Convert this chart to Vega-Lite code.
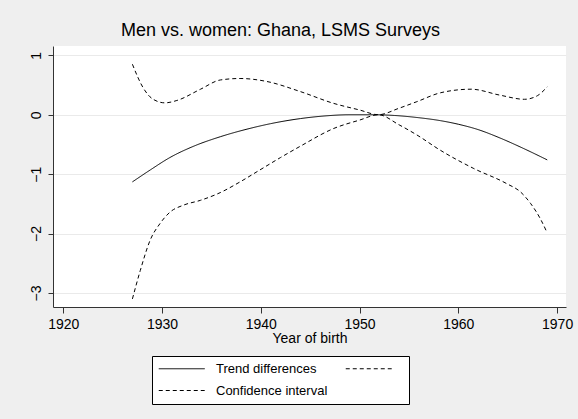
{
  "$schema": "https://vega.github.io/schema/vega-lite/v6.json",
  "autosize": {"type": "none"},
  "width": 513,
  "height": 261,
  "padding": {"left": 53, "top": 46, "right": 12, "bottom": 112},
  "background": "#efefef",
  "title": {
    "text": "Men vs. women: Ghana, LSMS Surveys",
    "font": "Liberation Sans",
    "fontSize": 18,
    "fontWeight": "normal",
    "color": "#000000",
    "anchor": "middle",
    "frame": "group",
    "dx": -29,
    "offset": 6
  },
  "config": {
    "view": {"fill": "#ffffff", "stroke": null},
    "font": "Liberation Sans",
    "axis": {
      "labelFont": "Liberation Sans",
      "titleFont": "Liberation Sans",
      "labelFontSize": 14,
      "titleFontSize": 14,
      "titleFontWeight": "normal",
      "labelColor": "#000000",
      "titleColor": "#000000",
      "domainColor": "#333333",
      "tickColor": "#333333",
      "gridColor": "#eaeaea",
      "gridWidth": 1
    }
  },
  "data": {
    "values": [
      {"year": 1927, "value": -1.13, "series": "Trend differences"},
      {"year": 1928.8, "value": -0.93, "series": "Trend differences"},
      {"year": 1930.8, "value": -0.72, "series": "Trend differences"},
      {"year": 1933.2, "value": -0.53, "series": "Trend differences"},
      {"year": 1935.9, "value": -0.37, "series": "Trend differences"},
      {"year": 1938.9, "value": -0.23, "series": "Trend differences"},
      {"year": 1941, "value": -0.15, "series": "Trend differences"},
      {"year": 1944, "value": -0.065, "series": "Trend differences"},
      {"year": 1946.5, "value": -0.02, "series": "Trend differences"},
      {"year": 1949, "value": 0.0, "series": "Trend differences"},
      {"year": 1951.5, "value": 0.0, "series": "Trend differences"},
      {"year": 1953.5, "value": -0.012, "series": "Trend differences"},
      {"year": 1956, "value": -0.05, "series": "Trend differences"},
      {"year": 1958.2, "value": -0.1, "series": "Trend differences"},
      {"year": 1960, "value": -0.16, "series": "Trend differences"},
      {"year": 1962, "value": -0.25, "series": "Trend differences"},
      {"year": 1964.2, "value": -0.39, "series": "Trend differences"},
      {"year": 1966.5, "value": -0.56, "series": "Trend differences"},
      {"year": 1969, "value": -0.76, "series": "Trend differences"},

      {"year": 1927, "value": 0.85, "series": "Upper"},
      {"year": 1928.1, "value": 0.45, "series": "Upper"},
      {"year": 1929.1, "value": 0.26, "series": "Upper"},
      {"year": 1930.3, "value": 0.2, "series": "Upper"},
      {"year": 1931.5, "value": 0.24, "series": "Upper"},
      {"year": 1933.9, "value": 0.43, "series": "Upper"},
      {"year": 1935.9, "value": 0.585, "series": "Upper"},
      {"year": 1937.9, "value": 0.61, "series": "Upper"},
      {"year": 1940.6, "value": 0.56, "series": "Upper"},
      {"year": 1944, "value": 0.39, "series": "Upper"},
      {"year": 1947.4, "value": 0.19, "series": "Upper"},
      {"year": 1950, "value": 0.08, "series": "Upper"},
      {"year": 1951.9, "value": 0.0, "series": "Upper"},
      {"year": 1954, "value": 0.11, "series": "Upper"},
      {"year": 1955.8, "value": 0.22, "series": "Upper"},
      {"year": 1958.2, "value": 0.37, "series": "Upper"},
      {"year": 1961.3, "value": 0.43, "series": "Upper"},
      {"year": 1964.2, "value": 0.33, "series": "Upper"},
      {"year": 1966.7, "value": 0.26, "series": "Upper"},
      {"year": 1968, "value": 0.32, "series": "Upper"},
      {"year": 1969, "value": 0.47, "series": "Upper"},

      {"year": 1927, "value": -3.1, "series": "Confidence interval"},
      {"year": 1927.8, "value": -2.62, "series": "Confidence interval"},
      {"year": 1928.8, "value": -2.11, "series": "Confidence interval"},
      {"year": 1929.8, "value": -1.83, "series": "Confidence interval"},
      {"year": 1930.8, "value": -1.64, "series": "Confidence interval"},
      {"year": 1932.2, "value": -1.52, "series": "Confidence interval"},
      {"year": 1933.9, "value": -1.44, "series": "Confidence interval"},
      {"year": 1935.9, "value": -1.31, "series": "Confidence interval"},
      {"year": 1937.9, "value": -1.13, "series": "Confidence interval"},
      {"year": 1939.9, "value": -0.93, "series": "Confidence interval"},
      {"year": 1942, "value": -0.72, "series": "Confidence interval"},
      {"year": 1944, "value": -0.53, "series": "Confidence interval"},
      {"year": 1947.4, "value": -0.23, "series": "Confidence interval"},
      {"year": 1950, "value": -0.09, "series": "Confidence interval"},
      {"year": 1951.9, "value": 0.0, "series": "Confidence interval"},
      {"year": 1954, "value": -0.17, "series": "Confidence interval"},
      {"year": 1955.8, "value": -0.34, "series": "Confidence interval"},
      {"year": 1958.2, "value": -0.6, "series": "Confidence interval"},
      {"year": 1961.5, "value": -0.9, "series": "Confidence interval"},
      {"year": 1964.9, "value": -1.16, "series": "Confidence interval"},
      {"year": 1966.3, "value": -1.3, "series": "Confidence interval"},
      {"year": 1967.3, "value": -1.49, "series": "Confidence interval"},
      {"year": 1968.3, "value": -1.75, "series": "Confidence interval"},
      {"year": 1969, "value": -1.99, "series": "Confidence interval"}
    ]
  },
  "mark": {"type": "line", "interpolate": "monotone", "color": "#000000", "strokeWidth": 1},
  "encoding": {
    "x": {
      "field": "year",
      "type": "quantitative",
      "scale": {"domain": [1918.96, 1970.9], "nice": false, "zero": false},
      "axis": {
        "values": [1920, 1930, 1940, 1950, 1960, 1970],
        "format": "d",
        "title": "Year of birth",
        "grid": false,
        "tickSize": 6,
        "labelPadding": 4,
        "titlePadding": 0,
        "labelFlush": false
      }
    },
    "y": {
      "field": "value",
      "type": "quantitative",
      "scale": {"domain": [-3.236, 1.157], "nice": false, "zero": false},
      "axis": {
        "values": [-3, -2, -1, 0, 1],
        "title": null,
        "grid": true,
        "tickSize": 5,
        "labelAngle": -90,
        "labelAlign": "center",
        "labelBaseline": "bottom",
        "labelPadding": 5,
        "labelFlush": false
      }
    },
    "detail": {"field": "series"},
    "strokeDash": {
      "field": "series",
      "type": "nominal",
      "scale": {
        "domain": ["Trend differences", "Upper", "Confidence interval"],
        "range": [[1, 0], [4, 3], [4, 3]]
      },
      "legend": {
        "title": null,
        "orient": "none",
        "legendX": 99,
        "legendY": 310,
        "direction": "horizontal",
        "columns": 2,
        "columnPadding": 15,
        "rowPadding": 8,
        "padding": 6,
        "strokeColor": "#000000",
        "fillColor": "#ffffff",
        "symbolType": "M-1,0H7",
        "symbolSize": 132,
        "symbolStrokeColor": "#000000",
        "symbolFillColor": "transparent",
        "symbolStrokeWidth": 1,
        "labelFont": "Liberation Sans",
        "labelFontSize": 13,
        "labelColor": "#000000",
        "labelOffset": 45,
        "labelExpr": "datum.label == 'Upper' ? '' : datum.label"
      }
    }
  }
}
